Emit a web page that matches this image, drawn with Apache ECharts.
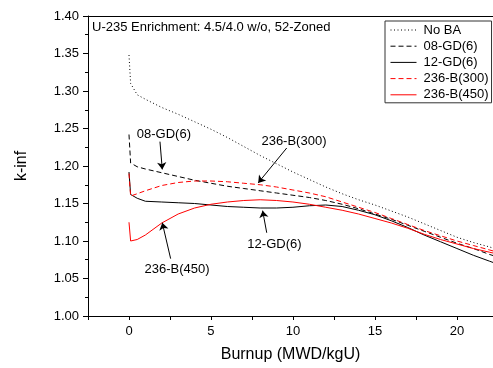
<!DOCTYPE html>
<html>
<head>
<meta charset="utf-8">
<script src="https://cdn.jsdelivr.net/npm/echarts@6/dist/echarts.min.js"></script>
<style>html,body{margin:0;padding:0;background:#fff}#c{width:493px;height:368px}</style>
</head>
<body>
<div id="c"></div>
<script>
var burnup = [0, 0.1, 0.5, 1, 2, 3, 4, 5, 6, 7, 8, 9, 10, 11, 12, 13, 14, 15, 16, 17, 18, 19, 20, 21, 22, 23];
var noBA   = [1.348, 1.310, 1.295, 1.289, 1.278, 1.269, 1.259, 1.249, 1.238, 1.226, 1.214, 1.203, 1.192, 1.182, 1.172, 1.163, 1.155, 1.148, 1.140, 1.132, 1.123, 1.114, 1.105, 1.098, 1.092, 1.085];
var gd08   = [1.242, 1.204, 1.199, 1.196, 1.191, 1.186, 1.181, 1.177, 1.173, 1.170, 1.167, 1.164, 1.161, 1.158, 1.154, 1.149, 1.143, 1.136, 1.129, 1.121, 1.113, 1.105, 1.097, 1.090, 1.082, 1.075];
var gd12   = [1.192, 1.162, 1.157, 1.153, 1.152, 1.151, 1.150, 1.148, 1.146, 1.145, 1.144, 1.144, 1.145, 1.147, 1.148, 1.146, 1.141, 1.135, 1.127, 1.118, 1.108, 1.099, 1.090, 1.081, 1.073, 1.065];
var b300   = [1.190, 1.160, 1.163, 1.167, 1.174, 1.178, 1.180, 1.180, 1.179, 1.177, 1.175, 1.172, 1.168, 1.164, 1.159, 1.152, 1.145, 1.138, 1.130, 1.122, 1.114, 1.107, 1.100, 1.094, 1.088, 1.082];
var b450   = [1.125, 1.100, 1.102, 1.108, 1.124, 1.136, 1.144, 1.149, 1.152, 1.154, 1.155, 1.154, 1.152, 1.149, 1.145, 1.141, 1.136, 1.130, 1.124, 1.117, 1.109, 1.102, 1.096, 1.090, 1.085, 1.080];
var seriesNames = ['No BA', '08-GD(6)', '12-GD(6)', '236-B(300)', '236-B(450)'];
// annotations: text, text position, arrow start, arrow end (data coordinates)
var annTexts = ['08-GD(6)', '236-B(300)', '12-GD(6)', '236-B(450)'];
var annTextPos = [[2.13, 1.2418], [10.06, 1.2329], [8.87, 1.0955], [2.93, 1.0622]];
var annArrowFrom = [[1.89, 1.2325], [9.62, 1.224], [8.4, 1.111], [2.54, 1.0765]];
var annArrowTo = [[2.03, 1.1955], [7.88, 1.1775], [8.15, 1.1405], [2.03, 1.1243]];
var titleText = 'U-235 Enrichment: 4.5/4.0 w/o, 52-Zoned';

function pairs(ys) { return burnup.map(function (x, i) { return [x, ys[i]]; }); }

var FONT = 'Liberation Sans';
var chart = echarts.init(document.getElementById('c'), null, { renderer: 'canvas' });
var lineDefs = [
  { data: noBA, color: '#000', type: [1, 2.5] },
  { data: gd08, color: '#000', type: [5, 3] },
  { data: gd12, color: '#000', type: 'solid' },
  { data: b300, color: '#ff0000', type: [5, 3] },
  { data: b450, color: '#ff0000', type: 'solid' }
];
var series = lineDefs.map(function (d, i) {
  return {
    name: seriesNames[i], type: 'line', data: pairs(d.data), showSymbol: false, symbol: 'none',
    lineStyle: { color: d.color, width: 1, type: d.type }, itemStyle: { color: d.color },
    clip: true, z: 3
  };
});
series.push({
  name: '__ann', type: 'scatter', symbolSize: 1, itemStyle: { color: 'transparent', opacity: 1 }, silent: true,
  data: annTexts.map(function (t, i) { return [annTextPos[i][0], annTextPos[i][1], t]; }),
  label: { show: true, position: 'inside', formatter: function (p) { return p.value[2]; },
    color: '#000', opacity: 1, fontFamily: FONT, fontSize: 13 },
  markLine: {
    silent: true, animation: false, symbol: ['none', 'arrow'], symbolSize: 7,
    itemStyle: { color: '#000', opacity: 1 },
    lineStyle: { color: '#000', type: 'solid', width: 1, opacity: 1 }, label: { show: false },
    data: annArrowFrom.map(function (f, i) {
      return [{ coord: f, symbol: 'none' }, { coord: annArrowTo[i], symbol: 'arrow', symbolSize: 7, itemStyle: { color: '#000' } }];
    })
  }
});

chart.setOption({
  animation: false,
  title: { text: titleText, left: 92, top: 21, padding: 0,
    textStyle: { fontFamily: FONT, fontSize: 13, fontWeight: 'normal', color: '#000' } },
  legend: {
    data: seriesNames, orient: 'vertical', left: 385, top: 21,
    itemWidth: 26, itemHeight: 14, itemGap: 2.2, padding: [2, 3, 1, 5],
    borderColor: '#333', borderWidth: 1, backgroundColor: '#fff',
    itemStyle: { opacity: 0 },
    lineStyle: { width: 1 },
    textStyle: { fontFamily: FONT, fontSize: 13, color: '#000', lineHeight: 14, padding: [0, 0, 0, 2] }
  },
  grid: { left: 88, right: 0, top: 16, bottom: 51.5, containLabel: false },
  xAxis: [{
    type: 'value', min: -2.5, max: 22.2, interval: 2.5,
    name: 'Burnup (MWD/kgU)', nameLocation: 'middle', nameGap: 31,
    nameTextStyle: { fontFamily: FONT, fontSize: 16, color: '#000' },
    axisLine: { show: true, onZero: false, lineStyle: { color: '#000', width: 1 } },
    axisTick: { show: true, length: 4, lineStyle: { color: '#000' } },
    axisLabel: { fontFamily: FONT, fontSize: 13, color: '#000', margin: 9, showMaxLabel: false,
      formatter: function (v) { return (Math.abs(v % 5) < 1e-6) ? String(v) : ''; } },
    splitLine: { show: false }
  }, {
    type: 'value', position: 'top', min: -2.5, max: 22.2,
    axisLine: { show: true, lineStyle: { color: '#000', width: 1 } },
    axisTick: { show: false }, axisLabel: { show: false }, splitLine: { show: false }
  }],
  yAxis: {
    type: 'value', min: 1.0, max: 1.4, interval: 0.05,
    name: 'k-inf', nameLocation: 'middle', nameGap: 58,
    nameTextStyle: { fontFamily: FONT, fontSize: 16, color: '#000' },
    axisLine: { show: true, onZero: false, lineStyle: { color: '#000', width: 1 } },
    axisTick: { show: true, length: 5, lineStyle: { color: '#000' } },
    minorTick: { show: true, splitNumber: 2, length: 3, lineStyle: { color: '#000' } },
    axisLabel: { fontFamily: FONT, fontSize: 13, color: '#000', margin: 9,
      formatter: function (v) { return v.toFixed(2); } },
    splitLine: { show: false }
  },
  series: series
});
</script>
</body>
</html>
